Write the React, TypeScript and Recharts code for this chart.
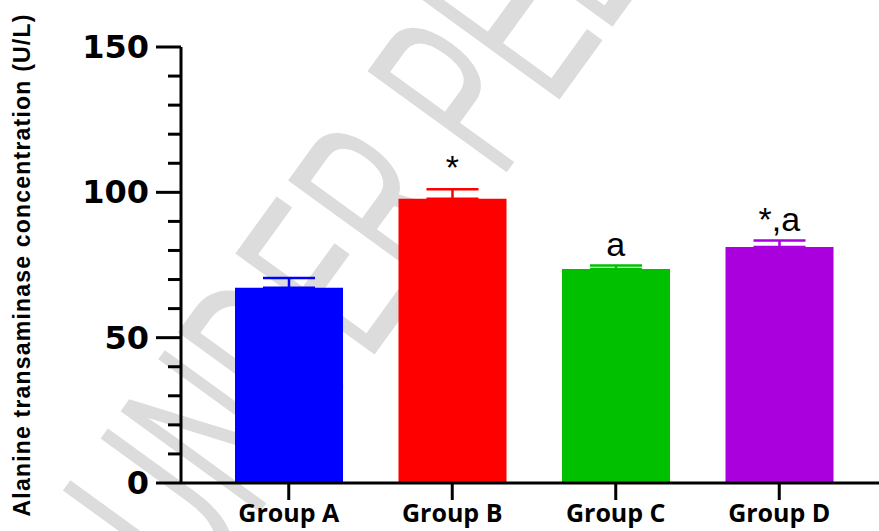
import React from 'react';
import { ComposedChart, Bar, Line, XAxis, YAxis, ErrorBar, LabelList } from 'recharts';

const groups = ['Group A', 'Group B', 'Group C', 'Group D'];
const meanAlt = [67.2, 97.8, 73.6, 81.2];
const semAlt = [3.3, 3.3, 1.2, 2.2];
const notes = ['', '*', 'a', '*,a'];
const barColors = ['#0000FF', '#FF0000', '#00C000', '#AA00DD'];
const yTicks = [0, 10, 20, 30, 40, 50, 60, 70, 80, 90, 100, 110, 120, 130, 140, 150];
const yLabelTicks = [0, 50, 100, 150];

// one stacked series per group so every error bar can take its bar's colour
const data = groups.map((g, i) => ({
  group: g,
  [`v${i}`]: meanAlt[i],
  [`e${i}`]: [0, semAlt[i]],
  top: meanAlt[i] + semAlt[i],
  note: notes[i],
}));

const YTick = ({ x, y, payload }: any) => {
  const major = yLabelTicks.includes(payload.value);
  return (
    <g>
      <line x1={x - (major ? 25 : 13)} x2={x} y1={y} y2={y} stroke="#000" strokeWidth={3} />
      {major && (
        <text x={x - 32} y={y} dy={11} textAnchor="end" fontFamily="DejaVu Sans" fontWeight="bold" fontSize={32} fill="#000">
          {payload.value}
        </text>
      )}
    </g>
  );
};

const XTick = ({ x, y, payload }: any) => (
  <text x={x} y={y + 22} textAnchor="middle" fontFamily="Open Sans" fontWeight="bold" fontSize={25} fill="#000">
    {payload.value}
  </text>
);

const NoteLabel = (props: any) => {
  const { x, y, value } = props;
  if (!value) return null;
  return (
    <text x={x} y={y - 10} textAnchor="middle" fontFamily="Liberation Sans" fontSize={34} fill="#000">
      {value}
    </text>
  );
};

export default function App() {
  return (
    <div style={{ position: 'absolute', left: 0, top: 0, width: 879, height: 531, background: '#fff', overflow: 'hidden' }}>
      <svg width={879} height={531} style={{ position: 'absolute', left: 0, top: 0 }}>
        <text
          transform="translate(196,600) rotate(-54) scale(0.54,1)"
          fontFamily="Liberation Sans"
          fontSize={250}
          fill="#dcdcdc"
        >
          UNDER PEER REVIEW
        </text>
      </svg>
      <div style={{ position: 'absolute', left: 0, top: 0 }}>
        <ComposedChart width={879} height={531} data={data} margin={{ top: 47, right: 0, bottom: 0, left: 0 }}>
          <XAxis
            dataKey="group"
            height={48}
            padding={{ left: 26, right: 18 }}
            axisLine={{ stroke: '#000', strokeWidth: 3 }}
            tickLine={{ stroke: '#000', strokeWidth: 3 }}
            tickSize={17}
            tickMargin={0}
            tick={<XTick />}
          />
          <YAxis
            type="number"
            domain={[0, 150]}
            ticks={yTicks}
            interval={0}
            width={181}
            tickSize={0}
            tickMargin={0}
            tickLine={false}
            axisLine={{ stroke: '#000', strokeWidth: 3 }}
            tick={<YTick />}
            label={{
              value: 'Alanine transaminase concentration (U/L)',
              angle: -90,
              position: 'insideLeft',
              offset: 22,
              fontFamily: 'Liberation Sans',
              fontWeight: 'bold',
              fontSize: 23,
              fill: '#000',
              style: { textAnchor: 'middle', fontFamily: 'Liberation Sans', fontWeight: 'bold', fontSize: 23, letterSpacing: 1.2, fill: '#000' },
            }}
          />
          {groups.map((g, i) => (
            <Bar key={g} dataKey={`v${i}`} stackId="s" fill={barColors[i]} barSize={108} isAnimationActive={false}>
              <ErrorBar dataKey={`e${i}`} width={26} stroke={barColors[i]} strokeWidth={2.5} direction="y" isAnimationActive={false} />
            </Bar>
          ))}
          <Line dataKey="top" stroke="none" dot={false} activeDot={false} isAnimationActive={false}>
            <LabelList dataKey="note" content={<NoteLabel />} />
          </Line>
        </ComposedChart>
      </div>
    </div>
  );
}
